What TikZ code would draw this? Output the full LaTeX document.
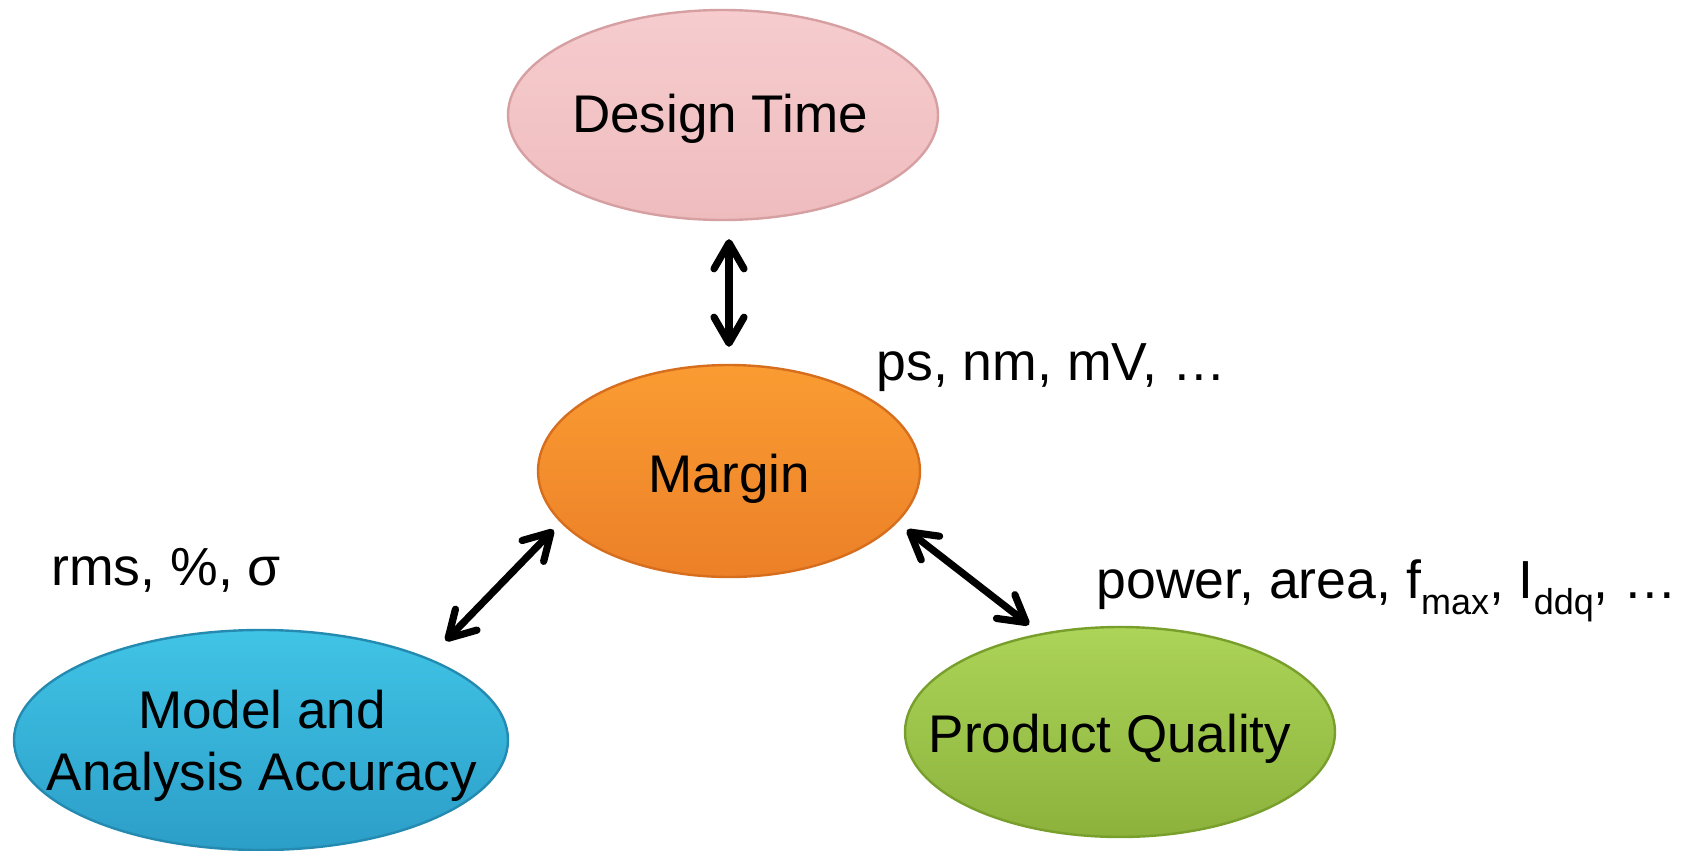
\documentclass[tikz,border=0pt]{standalone}
\usepackage{fontspec}
\setmainfont{Liberation Sans}
\usetikzlibrary{shapes.geometric,arrows.meta,calc}

% fills of the four bubbles (top / bottom of the vertical shading, rim)
\definecolor{pinkTop}{RGB}{246,204,206}
\definecolor{pinkBot}{RGB}{239,188,190}
\definecolor{pinkRim}{RGB}{214,160,162}
\definecolor{orangeTop}{RGB}{250,156,50}
\definecolor{orangeBot}{RGB}{236,128,40}
\definecolor{orangeRim}{RGB}{214,110,30}
\definecolor{blueTop}{RGB}{64,196,230}
\definecolor{blueBot}{RGB}{44,158,200}
\definecolor{blueRim}{RGB}{36,138,176}
\definecolor{greenTop}{RGB}{172,212,88}
\definecolor{greenBot}{RGB}{140,178,60}
\definecolor{greenRim}{RGB}{120,158,44}

\newcommand\lowtext[1]{\raisebox{-8pt}{\fontsize{18}{18}\selectfont #1}}

\begin{document}
\begin{tikzpicture}[x=0.5pt,y=-0.5pt,
  bubble/.style={ellipse, inner sep=0pt, line width=1.2pt},
  bubbletext/.style={anchor=base, align=center, inner sep=0pt,
    font=\fontsize{26.5}{31}\selectfont},
  unittext/.style={anchor=base west, inner sep=0pt,
    font=\fontsize{26.8}{31}\selectfont},
  dbl/.style={{Straight Barb[length=13pt,width=15pt,round]}-{Straight Barb[length=13pt,width=15pt,round]},
    line width=3.6pt, line cap=round}]

\useasboundingbox (0,0) rectangle (1686,851);

% bubbles (sizes in pt: half of the pixel extent)
\node[bubble, top color=pinkTop, bottom color=pinkBot, draw=pinkRim,
      minimum width=215pt, minimum height=105pt] (dt) at (723,115) {};
\node[bubble, top color=orangeTop, bottom color=orangeBot, draw=orangeRim,
      minimum width=191pt, minimum height=106pt] (mg) at (729,471) {};
\node[bubble, top color=blueTop, bottom color=blueBot, draw=blueRim,
      minimum width=247pt, minimum height=110pt] (md) at (261,740) {};
\node[bubble, top color=greenTop, bottom color=greenBot, draw=greenRim,
      minimum width=215pt, minimum height=105pt] (pq) at (1120,732) {};

% bubble labels (a two-line label sits on the baseline of its last line)
\node[bubbletext] (dtText) at (720,132) {Design Time};
\node[bubbletext] (mgText) at (729,492) {Margin};
\node[bubbletext] (mdText) at (262,790) {Model and\\Analysis Accuracy};
\node[bubbletext] (pqText) at (1110,752) {Product Quality};

% units measured on each axis
\node[unittext] (mgUnits) at (876,380) {ps, nm, mV, …};
\node[unittext] (mdUnits) at (51,585) {rms, \%, σ};
\node[unittext] (pqUnits) at (1096,598)
  {power, area, f\lowtext{max}, I\lowtext{ddq}, …};

% trade-off arrows
\draw[dbl, shorten <=9pt, shorten >=8.5pt] (dt.south -| mg.north) -- (mg.north);
\draw[dbl, shorten <=5pt, shorten >=12pt] (mg.197) -- (md.26);
\draw[dbl, shorten <=6pt, shorten >=7pt] (mg.343) -- (pq.129);

\end{tikzpicture}
\end{document}
